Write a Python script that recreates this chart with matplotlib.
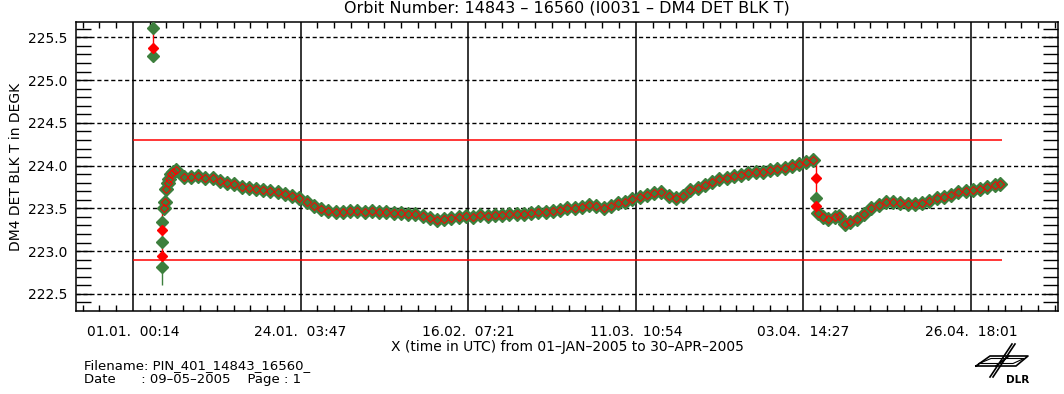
import matplotlib
matplotlib.use("Agg")
import matplotlib.pyplot as plt
from matplotlib.lines import Line2D
import numpy as np

# DM4 DET BLK T, orbits 14843 - 16560, x = days since 01.01.2005 00:00 UTC
days = [4.3, 4.45, 4.6, 4.8, 5.0, 5.3, 5.6, 6.0,
        7, 8, 9, 10, 11, 12, 13, 14, 15, 16, 17, 18, 19, 20,
        21, 22, 23, 24, 25, 26, 27, 28, 29, 30, 31, 32, 33, 34, 35,
        36, 37, 38, 39, 40, 41, 42, 43, 44, 45, 46, 47, 48, 49, 50,
        51, 52, 53, 54, 55, 56, 57, 58, 59, 60, 61, 62, 63, 64, 65,
        66, 67, 68, 69, 70, 71, 72, 73, 74, 75, 76, 77, 78, 79, 80,
        81, 82, 83, 84, 85, 86, 87, 88, 89, 90, 91, 92, 93, 93.9,
        94.6, 95.3, 96, 97, 97.5, 98.3, 99, 100, 101, 102, 103, 104,
        105, 106, 107, 108, 109, 110, 111, 112, 113, 114, 115, 116,
        117, 118, 119, 119.8]
temp = [223.51, 223.58, 223.73, 223.80, 223.84, 223.90, 223.93, 223.95,
        223.87, 223.87, 223.88, 223.86, 223.85, 223.82, 223.80, 223.78,
        223.75, 223.74, 223.73, 223.72, 223.70, 223.69,
        223.67, 223.65, 223.62, 223.58, 223.53, 223.49, 223.47, 223.46,
        223.46, 223.47, 223.47, 223.46, 223.47, 223.46, 223.46,
        223.45, 223.45, 223.44, 223.43, 223.41, 223.39, 223.37, 223.38,
        223.39, 223.40, 223.41, 223.40, 223.42, 223.41, 223.42,
        223.42, 223.43, 223.44, 223.44, 223.45, 223.46, 223.46, 223.47,
        223.48, 223.50, 223.51, 223.52, 223.54, 223.53, 223.51,
        223.53, 223.56, 223.58, 223.61, 223.63, 223.66, 223.68, 223.69,
        223.65, 223.62, 223.64, 223.71, 223.74, 223.77, 223.81,
        223.84, 223.86, 223.88, 223.89, 223.91, 223.92, 223.93, 223.95,
        223.96, 223.97, 223.99, 224.02, 224.04, 224.07,
        223.45, 223.40, 223.38, 223.40, 223.41, 223.32, 223.34, 223.38,
        223.43, 223.50, 223.54, 223.57,
        223.58, 223.56, 223.55, 223.55, 223.56, 223.59, 223.62, 223.63,
        223.66, 223.69, 223.70, 223.71,
        223.73, 223.75, 223.77, 223.79]

# orbits with a fast temperature change (after switch-on / at the drop)
jump_days = [2.76, 4.05, 94.3]
jump_green = [[225.61, 225.28], [223.34, 223.11, 222.82], [223.62]]
jump_red = [[225.38], [223.25, 222.945], [223.85, 223.53]]
jump_lo = [225.28, 222.82, 223.45]
jump_hi = [225.61, 223.51, 224.08]
# green error bars at the switch-on
err_days = [2.76, 4.05]
err_lo = [225.61, 222.60]
err_hi = [225.72, 222.82]

# red limits
limit_hi = 224.3
limit_lo = 222.9
limit_start = 0.0097
limit_end = 120.0

tick_days = [0.0097, 23.158, 46.306, 69.455, 92.602, 115.751]
tick_labels = ["01.01.  00:14", "24.01.  03:47", "16.02.  07:21",
               "11.03.  10:54", "03.04.  14:27", "26.04.  18:01"]
y_major = [222.5, 223.0, 223.5, 224.0, 224.5, 225.0, 225.5]

green = "#3d7f3d"
red = "#ff0000"

W, H = 1064, 394
fig = plt.figure(figsize=(W / 100, H / 100), dpi=100)
ax = fig.add_axes([76 / W, 1 - 311 / H, (1058 - 76) / W, (311 - 22) / H])

ax.set_xlim(-7.86, 127.77)
ax.set_ylim(222.30, 225.68)

for y in y_major:
    ax.axhline(y, color="black", lw=1.0, ls=(0, (3, 2)), zorder=1)
for x in tick_days:
    ax.axvline(x, color="black", lw=1.1, zorder=1)
ax.hlines([limit_hi, limit_lo], limit_start, limit_end, color=red, lw=1.1, zorder=2)

# vertical spans of the fast-changing orbits
ax.vlines(jump_days, jump_lo, jump_hi, color=red, lw=1.0, zorder=3)
ax.vlines(err_days, err_lo, err_hi, color=green, lw=1.0, zorder=3)
for d, g, r in zip(jump_days, jump_green, jump_red):
    ax.plot([d] * len(g), g, ls="none", marker="D", ms=6, color=green, zorder=4)
    ax.plot([d] * len(r), r, ls="none", marker="D", ms=5.5, color=red, zorder=5)

ax.plot(days, temp, ls="none", marker="D", ms=7.5, color=green, zorder=4)
ax.plot(days, temp, ls="none", marker="D", ms=4.5, mfc="none", mec=red,
        mew=0.7, zorder=5)

ax.set_xticks(tick_days)
ax.set_xticklabels(tick_labels, fontsize=10)
step = (tick_days[1] - tick_days[0]) / 10
ax.set_xticks(np.arange(tick_days[0] - 3 * step, 127.7, step), minor=True)
ax.set_yticks(y_major)
ax.set_yticklabels(["%.1f" % v for v in y_major], fontsize=10)
ax.set_yticks(np.arange(222.4, 225.65, 0.1), minor=True)

ax.tick_params(axis="x", which="major", length=0, pad=10)
ax.tick_params(axis="x", which="minor", length=4.5, width=1, direction="in",
               top=True, bottom=True)
ax.tick_params(axis="y", which="both", length=10.5, width=1, direction="in",
               left=True, right=True)
ax.tick_params(axis="y", which="major", pad=6)
for s in ax.spines.values():
    s.set_linewidth(1.1)

ax.set_ylabel("DM4 DET BLK T in DEGK", fontsize=10, labelpad=4)
ax.set_xlabel("X (time in UTC) from 01–JAN–2005 to 30–APR–2005", fontsize=10,
              labelpad=1)
fig.text(567 / W, 1 - 8 / H, "Orbit Number: 14843 – 16560 (I0031 – DM4 DET BLK T)",
         ha="center", va="center", fontsize=11.5)

fig.text(84 / W, 1 - 366 / H, "Filename: PIN_401_14843_16560_", fontsize=9.5,
         va="center")
fig.text(84 / W, 1 - 380 / H, "Date      : 09–05–2005    Page : 1", fontsize=9.5,
         va="center")


# DLR logo, drawn in figure pixels
def px_line(xs, ys, lw=1.2):
    fig.add_artist(Line2D([x / W for x in xs], [1 - y / H for y in ys],
                          color="black", lw=lw))


px_line([976, 990, 1028, 1016, 976], [366, 356, 356, 366, 366])
px_line([979, 991, 1024, 1013, 979], [363.5, 358.5, 358.5, 363.5, 363.5], lw=0.8)
px_line([996, 1009], [366, 356])
px_line([1012, 990], [344, 377])
px_line([1015, 993], [344, 377])
fig.text(1018 / W, 1 - 380 / H, "DLR", fontsize=7.5, fontweight="bold",
         ha="center", va="center")

fig.savefig("out.png", dpi=100)
